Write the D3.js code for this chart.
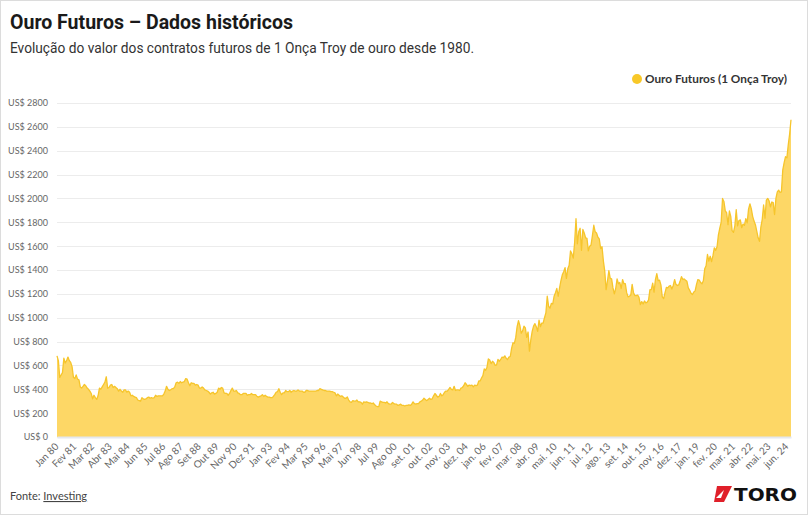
<!DOCTYPE html>
<html>
<head>
<meta charset="utf-8">
<script src="https://cdn.jsdelivr.net/npm/d3@7"></script>
<style>
  body { margin: 0; background: #fff; }
  svg { display: block; }
</style>
</head>
<body>
<div id="chart"></div>
<script>
// monthly close, Jan 1980 .. Sep 2024 (US$ per troy ounce)
var prices = [
  680, 640, 500, 520, 540, 660, 620, 640, 670, 640, 625, 590,   // 1980
  500, 490, 520, 485, 480, 420, 410, 425, 440, 430, 410, 400,   // 1981
  385, 365, 320, 350, 330, 315, 345, 410, 400, 420, 440, 460,   // 1982
  505, 410, 415, 435, 440, 415, 425, 415, 405, 385, 400, 385,   // 1983
  375, 395, 395, 375, 385, 375, 345, 350, 340, 335, 330, 310,   // 1984
  305, 300, 330, 320, 315, 320, 330, 335, 325, 330, 325, 330,   // 1985
  350, 340, 345, 345, 345, 345, 360, 385, 425, 400, 390, 395,   // 1986
  405, 405, 420, 455, 460, 450, 465, 455, 460, 465, 490, 485,   // 1987
  455, 430, 455, 450, 450, 435, 440, 435, 410, 410, 420, 410,   // 1988
  395, 390, 385, 375, 360, 370, 375, 360, 365, 375, 410, 400,   // 1989
  415, 410, 370, 365, 365, 350, 365, 390, 410, 385, 385, 390,   // 1990
  370, 365, 355, 355, 365, 365, 365, 350, 355, 355, 365, 355,   // 1991
  355, 355, 340, 335, 340, 345, 355, 340, 350, 340, 335, 335,   // 1992
  330, 330, 340, 355, 375, 380, 405, 375, 355, 370, 370, 390,   // 1993
  380, 380, 390, 375, 385, 390, 385, 385, 395, 385, 385, 385,   // 1994
  375, 375, 390, 390, 385, 385, 385, 385, 385, 385, 390, 390,   // 1995
  405, 400, 395, 390, 390, 385, 385, 385, 380, 380, 375, 370,   // 1996
  345, 360, 350, 340, 345, 335, 325, 325, 335, 310, 295, 290,   // 1997
  305, 300, 300, 310, 295, 295, 290, 275, 295, 290, 295, 290,   // 1998
  285, 285, 280, 285, 270, 260, 255, 255, 300, 295, 290, 290,   // 1999
  285, 295, 280, 275, 275, 290, 280, 275, 275, 265, 270, 275,   // 2000
  265, 265, 260, 265, 265, 270, 265, 275, 295, 280, 275, 280,   // 2001
  280, 295, 300, 310, 325, 315, 305, 315, 325, 315, 320, 345,   // 2002
  365, 350, 335, 340, 365, 345, 355, 375, 385, 385, 400, 415,   // 2003
  400, 395, 425, 390, 395, 395, 390, 410, 415, 430, 455, 440,   // 2004
  425, 435, 430, 435, 420, 435, 430, 435, 470, 470, 495, 515,   // 2005
  570, 560, 585, 655, 645, 615, 635, 625, 600, 605, 650, 635,   // 2006
  650, 670, 665, 680, 660, 650, 670, 675, 745, 790, 785, 835,   // 2007
  925, 975, 935, 870, 890, 930, 915, 835, 880, 720, 815, 885,   // 2008
  930, 950, 925, 885, 980, 925, 955, 955, 1000, 1040, 1180, 1095, // 2009
  1080, 1120, 1115, 1180, 1210, 1245, 1180, 1250, 1310, 1360, 1385, 1420, // 2010
  1330, 1410, 1440, 1560, 1535, 1500, 1630, 1830, 1620, 1720, 1750, 1565, // 2011
  1740, 1710, 1670, 1665, 1560, 1600, 1610, 1690, 1775, 1720, 1710, 1675, // 2012
  1660, 1580, 1595, 1475, 1390, 1235, 1310, 1395, 1330, 1325, 1250, 1200, // 2013
  1245, 1325, 1285, 1295, 1245, 1320, 1285, 1285, 1210, 1175, 1180, 1190, // 2014
  1280, 1210, 1185, 1185, 1190, 1170, 1110, 1135, 1115, 1140, 1125, 1130, // 2015
  1150, 1235, 1235, 1290, 1215, 1320, 1370, 1310, 1315, 1275, 1175, 1160, // 2016
  1210, 1255, 1250, 1265, 1270, 1240, 1270, 1320, 1280, 1270, 1275, 1305, // 2017
  1345, 1320, 1325, 1315, 1305, 1250, 1230, 1205, 1195, 1215, 1225, 1280, // 2018
  1320, 1315, 1295, 1285, 1310, 1410, 1435, 1530, 1475, 1515, 1470, 1520, // 2019
  1585, 1565, 1595, 1695, 1750, 1800, 2000, 1975, 1895, 1880, 1780, 1895, // 2020
  1850, 1730, 1715, 1770, 1905, 1770, 1815, 1820, 1755, 1785, 1775, 1830, // 2021
  1795, 1910, 1955, 1915, 1850, 1810, 1780, 1725, 1670, 1640, 1760, 1825, // 2022
  1945, 1835, 1985, 2000, 1980, 1930, 1970, 1965, 1865, 2000, 2055, 2070, // 2023
  2050, 2055, 2240, 2300, 2350, 2340, 2450, 2540, 2660                    // 2024
];

// one label every 13 months, starting Jan 80
var tickLabels = ["Jan 80", "Fev 81", "Mar 82", "Abr 83", "Mai 84", "Jun 85", "Jul 86",
  "Ago 87", "Set 88", "Out 89", "Nov 90", "Dez 91", "Jan 93", "Fev 94", "Mar 95",
  "Abr 96", "Mai 97", "Jun 98", "Jul 99", "Ago 00", "set. 01", "out. 02", "nov. 03",
  "dez. 04", "jan. 06", "fev. 07", "mar. 08", "abr. 09", "mai. 10", "jun. 11",
  "jul. 12", "ago. 13", "set. 14", "out. 15", "nov. 16", "dez. 17", "jan. 19",
  "fev. 20", "mar. 21", "abr. 22", "mai. 23", "jun. 24"];
var tickStep = 13;

var yTicks = [0, 200, 400, 600, 800, 1000, 1200, 1400, 1600, 1800, 2000, 2200, 2400, 2600, 2800];

var seriesName = "Ouro Futuros (1 Onça Troy)";

var W = 808, H = 515;
var margin = {top: 103, right: 17, bottom: 78, left: 57};

var svg = d3.select("#chart").append("svg")
    .attr("width", W)
    .attr("height", H);

svg.append("rect")
    .attr("x", 0.5).attr("y", 0.5)
    .attr("width", W - 1).attr("height", H - 1)
    .attr("fill", "#fff")
    .attr("stroke", "#dcdcdc");

var x = d3.scaleLinear()
    .domain([0, prices.length - 1])
    .range([margin.left, W - margin.right]);

var y = d3.scaleLinear()
    .domain([0, 2800])
    .range([H - margin.bottom, margin.top]);

// gridlines
svg.append("g")
    .selectAll("line")
    .data(yTicks)
    .join("line")
    .attr("x1", margin.left)
    .attr("x2", W - margin.right)
    .attr("y1", function(d) { return Math.round(y(d)) + 0.5; })
    .attr("y2", function(d) { return Math.round(y(d)) + 0.5; })
    .attr("stroke", "#ececec");

// area
var area = d3.area()
    .x(function(d, i) { return x(i); })
    .y0(y(0))
    .y1(function(d) { return y(d); });

svg.append("path")
    .datum(prices)
    .attr("fill", "#fdd766")
    .attr("d", area);

svg.append("path")
    .datum(prices)
    .attr("fill", "none")
    .attr("stroke", "#f6c52c")
    .attr("stroke-width", 1.3)
    .attr("stroke-linejoin", "round")
    .attr("d", d3.line()
        .x(function(d, i) { return x(i); })
        .y(function(d) { return y(d); }));

// y axis
var yAxis = svg.append("g")
    .attr("transform", "translate(" + margin.left + ",0)")
    .call(d3.axisLeft(y)
        .tickValues(yTicks)
        .tickFormat(function(d) { return "US$ " + d; })
        .tickSize(0)
        .tickPadding(9));
yAxis.select(".domain").remove();
yAxis.selectAll("text")
    .attr("fill", "#666")
    .style("font-family", "Lato, 'Open Sans', sans-serif")
    .style("font-size", "9px");

// x axis
var xAxis = svg.append("g")
    .attr("transform", "translate(0," + (H - margin.bottom) + ")")
    .call(d3.axisBottom(x)
        .tickValues(d3.range(0, tickLabels.length).map(function(i) { return i * tickStep; }))
        .tickFormat(function(d) { return tickLabels[d / tickStep]; })
        .tickSize(0));
xAxis.select(".domain")
    .attr("stroke", "#e4e8f0")
    .attr("stroke-width", 2);
xAxis.selectAll("text")
    .attr("fill", "#666")
    .attr("x", -6)
    .attr("y", 5)
    .attr("dy", "0.35em")
    .attr("transform", "rotate(-45)")
    .style("text-anchor", "end")
    .style("font-family", "Lato, 'Open Sans', sans-serif")
    .style("font-size", "10px");

// titles
svg.append("text")
    .attr("x", 10).attr("y", 29)
    .attr("textLength", 283)
    .attr("lengthAdjust", "spacingAndGlyphs")
    .style("font-family", "Roboto, sans-serif")
    .style("font-weight", "bold")
    .style("font-size", "21px")
    .attr("fill", "#1a1a1a")
    .text("Ouro Futuros – Dados históricos");

svg.append("text")
    .attr("x", 10).attr("y", 53)
    .attr("textLength", 464)
    .attr("lengthAdjust", "spacingAndGlyphs")
    .style("font-family", "Roboto, sans-serif")
    .style("font-size", "15px")
    .attr("fill", "#333")
    .text("Evolução do valor dos contratos futuros de 1 Onça Troy de ouro desde 1980.");

// legend
svg.append("circle")
    .attr("cx", 637).attr("cy", 79).attr("r", 5)
    .attr("fill", "#f8c828");
svg.append("text")
    .attr("x", 645).attr("y", 83)
    .attr("textLength", 142)
    .attr("lengthAdjust", "spacingAndGlyphs")
    .style("font-family", "Lato, sans-serif")
    .style("font-weight", "bold")
    .style("font-size", "12px")
    .attr("fill", "#333")
    .text(seriesName);

// source
var src = svg.append("text")
    .attr("x", 10).attr("y", 500)
    .style("font-family", "Lato, sans-serif")
    .style("font-size", "11px")
    .attr("fill", "#444");
src.append("tspan").text("Fonte: ");
src.append("tspan").attr("text-decoration", "underline").text("Investing");

// logo
var logo = svg.append("g");
logo.append("path")
    .attr("d", "M717,486 L732,486 L724,502 L714,502 Z")
    .attr("fill", "#e0202a");
logo.append("path")
    .attr("d", "M716,498 L724,490 L721,498 Z")
    .attr("fill", "#fff");
logo.append("text")
    .attr("x", 734).attr("y", 501)
    .attr("textLength", 63)
    .attr("lengthAdjust", "spacingAndGlyphs")
    .style("font-family", "'DejaVu Sans', sans-serif")
    .style("font-weight", "bold")
    .style("font-size", "17px")
    .attr("fill", "#111")
    .text("TORO");
</script>
</body>
</html>
